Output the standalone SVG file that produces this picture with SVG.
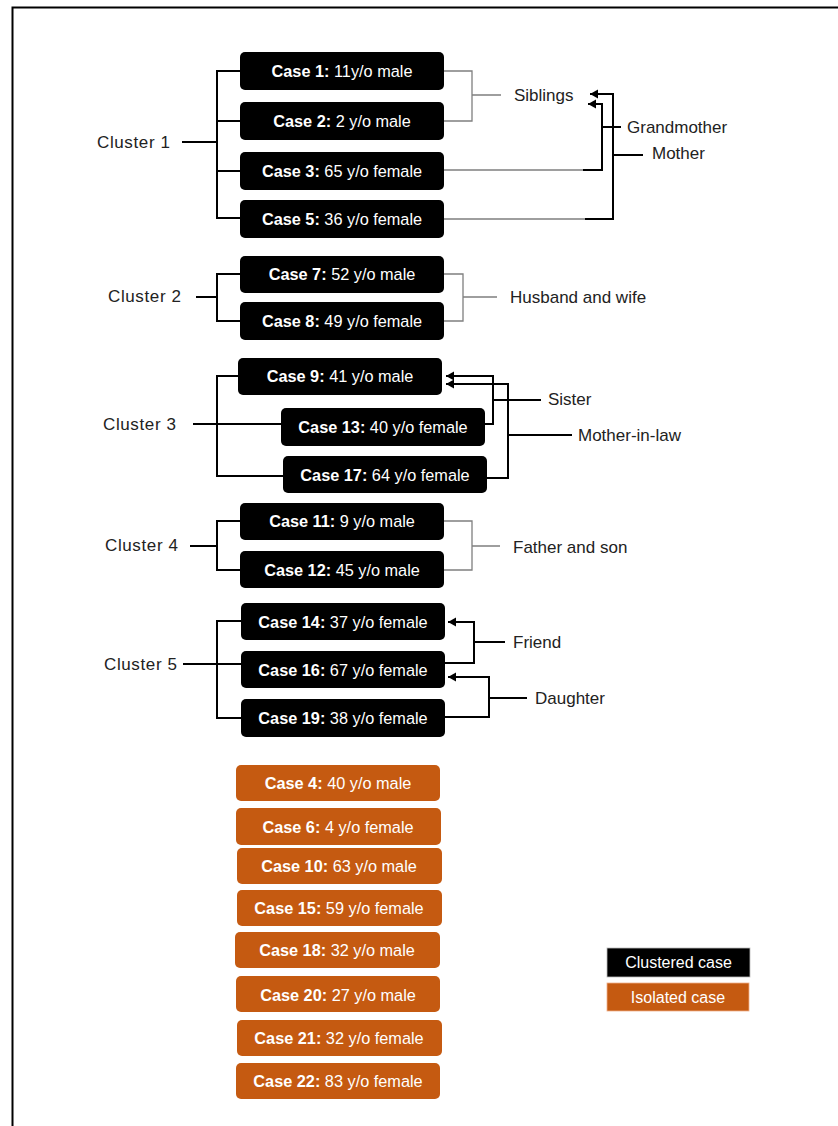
<svg xmlns="http://www.w3.org/2000/svg" width="838" height="1126" viewBox="0 0 838 1126">
<defs>
<style>
.bk{fill:#000;}
.or{fill:#C55A11;}
.bt{font-family:"Liberation Sans",Arial,sans-serif;font-size:16.3px;fill:#fff;text-anchor:middle;}
.bt .b{font-weight:bold;}
.lg{font-family:"Liberation Sans",Arial,sans-serif;font-size:16px;fill:#fff;text-anchor:middle;}
.lb{font-family:"Liberation Sans",Arial,sans-serif;font-size:17px;fill:#222;}
.th{fill:none;stroke:#000;stroke-width:2;}
.tn{fill:none;stroke:#7f7f7f;stroke-width:1.3;}
</style>
<marker id="ah" markerUnits="userSpaceOnUse" markerWidth="10" markerHeight="10" refX="8" refY="4.5" orient="auto">
<path d="M0,0 L8,4.5 L0,9 Z" fill="#000"/>
</marker>
</defs>
<rect width="838" height="1126" fill="#fff"/>
<path d="M12.5,1126 V7.5 H838" fill="none" stroke="#000" stroke-width="2"/>

<g id="connectors">
<!-- Cluster 1 -->
<path class="th" d="M182,142 H217 M240,71 H217 V218 H240 M217,121 H240 M217,171 H240"/>
<path class="tn" d="M444,71 H472 V121 H444 M472,95 H501"/>
<path class="tn" d="M444,170 H583 M444,219 H585"/>
<path class="th" d="M583,170 H602 V104 H588" marker-end="url(#ah)"/>
<path class="th" d="M585,219 H613 V94 H590" marker-end="url(#ah)"/>
<path class="th" d="M602,127 H621 M613,155 H643"/>
<!-- Cluster 2 -->
<path class="th" d="M196,297 H217 M240,274 H217 V321 H240"/>
<path class="tn" d="M444,274 H463 V321 H444 M463,297 H497"/>
<!-- Cluster 3 -->
<path class="th" d="M193,424 H281 M238,376 H217 V476 H283"/>
<path class="th" d="M485,424 H493 V376 H446" marker-end="url(#ah)"/>
<path class="th" d="M487,478 H508 V384 H446" marker-end="url(#ah)"/>
<path class="th" d="M493,400 H541 M508,435 H572"/>
<!-- Cluster 4 -->
<path class="th" d="M190,546 H217 M240,521 H217 V570 H240"/>
<path class="tn" d="M444,521 H472 V570 H444 M472,546 H500"/>
<!-- Cluster 5 -->
<path class="th" d="M183,664 H241 M241,621 H217 V718 H241"/>
<path class="th" d="M445,663 H474 V622 H448" marker-end="url(#ah)"/>
<path class="th" d="M445,717 H489 V677 H448" marker-end="url(#ah)"/>
<path class="th" d="M474,642 H505 M489,698 H527"/>
</g>

<g id="labels">
<text class="lb" x="97" y="148" textLength="73">Cluster 1</text>
<text class="lb" x="514" y="101">Siblings</text>
<text class="lb" x="627" y="133">Grandmother</text>
<text class="lb" x="652" y="159">Mother</text>
<text class="lb" x="108" y="302" textLength="73">Cluster 2</text>
<text class="lb" x="510" y="303">Husband and wife</text>
<text class="lb" x="103" y="430" textLength="73">Cluster 3</text>
<text class="lb" x="548" y="405">Sister</text>
<text class="lb" x="578" y="441">Mother-in-law</text>
<text class="lb" x="105" y="551" textLength="73">Cluster 4</text>
<text class="lb" x="513" y="553">Father and son</text>
<text class="lb" x="104" y="670" textLength="73">Cluster 5</text>
<text class="lb" x="513" y="648">Friend</text>
<text class="lb" x="535" y="704">Daughter</text>
</g>

<g id="case1"><rect class="bk" x="240" y="52" width="204" height="38" rx="5"/><text class="bt" x="342" y="77"><tspan class="b">Case 1:</tspan> 11y/o male</text></g>
<g id="case2"><rect class="bk" x="240" y="102" width="204" height="38" rx="5"/><text class="bt" x="342" y="127"><tspan class="b">Case 2:</tspan> 2 y/o male</text></g>
<g id="case3"><rect class="bk" x="240" y="152" width="204" height="38" rx="5"/><text class="bt" x="342" y="177"><tspan class="b">Case 3:</tspan> 65 y/o female</text></g>
<g id="case5"><rect class="bk" x="240" y="200" width="204" height="38" rx="5"/><text class="bt" x="342" y="225"><tspan class="b">Case 5:</tspan> 36 y/o female</text></g>

<g id="case7"><rect class="bk" x="240" y="256" width="204" height="37" rx="5"/><text class="bt" x="342" y="280"><tspan class="b">Case 7:</tspan> 52 y/o male</text></g>
<g id="case8"><rect class="bk" x="240" y="302" width="204" height="38" rx="5"/><text class="bt" x="342" y="327"><tspan class="b">Case 8:</tspan> 49 y/o female</text></g>

<g id="case9"><rect class="bk" x="238" y="358" width="204" height="37" rx="5"/><text class="bt" x="340" y="382"><tspan class="b">Case 9:</tspan> 41 y/o male</text></g>
<g id="case13"><rect class="bk" x="281" y="408" width="204" height="38" rx="5"/><text class="bt" x="383" y="433"><tspan class="b">Case 13:</tspan> 40 y/o female</text></g>
<g id="case17"><rect class="bk" x="283" y="456" width="204" height="37" rx="5"/><text class="bt" x="385" y="481"><tspan class="b">Case 17:</tspan> 64 y/o female</text></g>

<g id="case11"><rect class="bk" x="240" y="503" width="204" height="37" rx="5"/><text class="bt" x="342" y="527"><tspan class="b">Case 11:</tspan> 9 y/o male</text></g>
<g id="case12"><rect class="bk" x="240" y="551" width="204" height="37" rx="5"/><text class="bt" x="342" y="576"><tspan class="b">Case 12:</tspan> 45 y/o male</text></g>

<g id="case14"><rect class="bk" x="241" y="603" width="204" height="37" rx="5"/><text class="bt" x="343" y="628"><tspan class="b">Case 14:</tspan> 37 y/o female</text></g>
<g id="case16"><rect class="bk" x="241" y="651" width="204" height="37" rx="5"/><text class="bt" x="343" y="676"><tspan class="b">Case 16:</tspan> 67 y/o female</text></g>
<g id="case19"><rect class="bk" x="241" y="699" width="204" height="38" rx="5"/><text class="bt" x="343" y="724"><tspan class="b">Case 19:</tspan> 38 y/o female</text></g>

<g id="case4"><rect class="or" x="236" y="765" width="204" height="36" rx="5"/><text class="bt" x="338" y="789"><tspan class="b">Case 4:</tspan> 40 y/o male</text></g>
<g id="case6"><rect class="or" x="236" y="808" width="205" height="37" rx="5"/><text class="bt" x="338" y="833"><tspan class="b">Case 6:</tspan> 4 y/o female</text></g>
<g id="case10"><rect class="or" x="237" y="848" width="205" height="36" rx="5"/><text class="bt" x="339" y="872"><tspan class="b">Case 10:</tspan> 63 y/o male</text></g>
<g id="case15"><rect class="or" x="237" y="890" width="205" height="36" rx="5"/><text class="bt" x="339" y="914"><tspan class="b">Case 15:</tspan> 59 y/o female</text></g>
<g id="case18"><rect class="or" x="235" y="932" width="205" height="36" rx="5"/><text class="bt" x="337" y="956"><tspan class="b">Case 18:</tspan> 32 y/o male</text></g>
<g id="case20"><rect class="or" x="236" y="976" width="204" height="36" rx="5"/><text class="bt" x="338" y="1001"><tspan class="b">Case 20:</tspan> 27 y/o male</text></g>
<g id="case21"><rect class="or" x="237" y="1020" width="205" height="36" rx="5"/><text class="bt" x="339" y="1044"><tspan class="b">Case 21:</tspan> 32 y/o female</text></g>
<g id="case22"><rect class="or" x="236" y="1063" width="204" height="36" rx="5"/><text class="bt" x="338" y="1087"><tspan class="b">Case 22:</tspan> 83 y/o female</text></g>

<g id="legend">
<rect x="607" y="948" width="143" height="29" fill="#000" stroke="#bbb" stroke-width="0.8"/>
<text class="lg" x="678.5" y="968">Clustered case</text>
<rect x="607" y="983" width="142" height="28" fill="#C55A11" stroke="#f0b08a" stroke-width="0.8"/>
<text class="lg" x="678" y="1003">Isolated case</text>
</g>
</svg>
